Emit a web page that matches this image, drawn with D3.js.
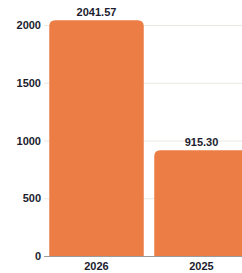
<!DOCTYPE html>
<html>
<head>
<meta charset="utf-8">
<script src="https://cdn.jsdelivr.net/npm/d3@7"></script>
<style>
  body { margin: 0; background: #fff; }
  svg { display: block; font-family: "Liberation Sans", Arial, sans-serif; }
</style>
</head>
<body>
<div id="chart"></div>
<script>
"use strict";

/** Data */
const years = ["2026", "2025"];
const amounts = [2041.57, 915.30];
const yTicks = [0, 500, 1000, 1500, 2000];

/** Dimensions */
const w = 242;
const h = 273;
const marginLeft = 44;
const plotTop = 25;
const plotBottom = 256;

const barColor = "#ec7d45";
const textColor = "#1b1c2e";

const svg = d3.select("#chart")
    .append("svg")
    .attr("width", w)
    .attr("height", h);

const x = d3.scaleBand()
    .domain(years)
    .range([marginLeft, marginLeft + 210])
    .paddingInner(0.1)
    .paddingOuter(0.05);

const y = d3.scaleLinear()
    .domain([0, 2000])
    .range([plotBottom, plotTop]);

/* gridlines */
svg.append("g")
    .selectAll("line")
    .data(yTicks.slice(1))
    .enter()
    .append("line")
    .attr("x1", marginLeft)
    .attr("x2", w)
    .attr("y1", d => y(d) + 0.5)
    .attr("y2", d => y(d) + 0.5)
    .attr("stroke", "#ebe8e0")
    .attr("stroke-width", 1);

/* zero line */
svg.append("line")
    .attr("x1", marginLeft)
    .attr("x2", w)
    .attr("y1", y(0) + 0.5)
    .attr("y2", y(0) + 0.5)
    .attr("stroke", "#9a9a9a")
    .attr("stroke-width", 1);

/* bars with rounded top corners */
const r = 6;
svg.append("g")
    .selectAll("path")
    .data(amounts)
    .enter()
    .append("path")
    .attr("fill", barColor)
    .attr("d", (d, i) => {
        const x0 = x(years[i]);
        const x1 = x0 + x.bandwidth();
        const yt = y(d);
        const yb = y(0);
        return `M${x0},${yb}V${yt + r}Q${x0},${yt} ${x0 + r},${yt}H${x1 - r}Q${x1},${yt} ${x1},${yt + r}V${yb}Z`;
    });

/* value labels */
svg.append("g")
    .selectAll("text")
    .data(amounts)
    .enter()
    .append("text")
    .attr("x", (d, i) => x(years[i]) + x.bandwidth() / 2)
    .attr("y", d => y(d) - 4)
    .attr("text-anchor", "middle")
    .attr("font-size", 11)
    .attr("font-weight", "bold")
    .attr("fill", textColor)
    .text(d => d3.format(".2f")(d));

/* y axis labels */
svg.append("g")
    .selectAll("text")
    .data(yTicks)
    .enter()
    .append("text")
    .attr("x", 41)
    .attr("y", d => y(d) + 4)
    .attr("text-anchor", "end")
    .attr("font-size", 11)
    .attr("font-weight", "bold")
    .attr("fill", textColor)
    .text(d => d);

/* x axis labels */
svg.append("g")
    .selectAll("text")
    .data(years)
    .enter()
    .append("text")
    .attr("x", d => x(d) + x.bandwidth() / 2)
    .attr("y", 270)
    .attr("text-anchor", "middle")
    .attr("font-size", 11)
    .attr("font-weight", "bold")
    .attr("fill", textColor)
    .text(d => d);
</script>
</body>
</html>
